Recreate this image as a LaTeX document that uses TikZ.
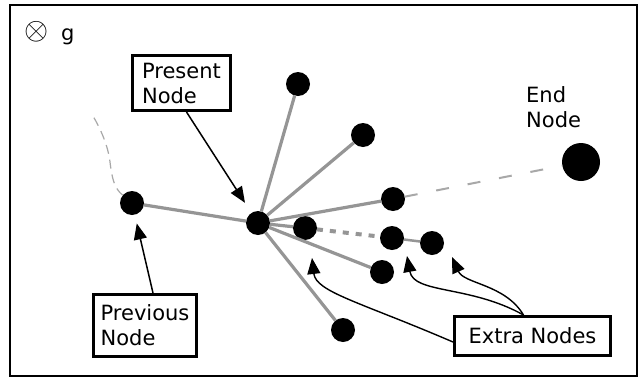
\documentclass[tikz,border=0pt]{standalone}
\usepackage{fontspec}
\setmainfont{DejaVu Sans}
\usetikzlibrary{arrows.meta}
\definecolor{linkgray}{HTML}{959595}
\definecolor{dashgray}{HTML}{A8A8A8}
\begin{document}
\begin{tikzpicture}[x=1pt,y=-1pt,
  txt/.style={font=\fontsize{21}{25}\selectfont},
  dot/.style={circle,fill=black,inner sep=0pt,outer sep=0pt,minimum size=24pt},
  bigdot/.style={dot,minimum size=38pt},
  labelbox/.style={txt,draw=black,line width=3pt,fill=white,align=left,inner sep=0pt},
  link/.style={draw=linkgray,line width=3.2pt},
  dotlink/.style={draw=linkgray,line width=4pt,dash pattern=on 6pt off 7pt},
  goallink/.style={draw=dashgray,line width=2pt,dash pattern=on 13pt off 19pt},
  trail/.style={draw=dashgray,line width=1.2pt,dash pattern=on 9pt off 6pt},
  arr/.style={draw=black,line width=1.5pt,-{Triangle[length=16pt,width=13pt]}},
  curvearr/.style={arr,line width=1.4pt}
]
% canvas and frame
\useasboundingbox (0,0) rectangle (641,381);
\fill[white] (0,0) rectangle (641,381);
\draw[line width=2pt] (10,5) rectangle (637,376);

% legend
\node[inner sep=0pt,scale=3.1] (otimes) at (37,32) {$\otimes$};
\node[txt,anchor=base west,inner sep=0pt] (g) at (61,40) {g};

% search nodes
\node[dot] (prev) at (132,203) {};
\node[dot] (present) at (258,223) {};
\node[dot] (n1) at (298,84) {};
\node[dot] (n2) at (363,135) {};
\node[dot] (n3) at (393,199) {};
\node[dot] (x1) at (305,228) {};
\node[dot] (x2) at (392,238) {};
\node[dot] (x3) at (432,243) {};
\node[dot] (n4) at (382,272) {};
\node[dot] (n5) at (343,330) {};
\node[bigdot] (goal) at (581,162) {};

% links between nodes
\draw[link] (prev) -- (present);
\draw[link] (present) -- (n1);
\draw[link] (present) -- (n2);
\draw[link] (present) -- (n3);
\draw[link] (present) -- (x1);
\draw[link] (present) -- (n4);
\draw[link] (present) -- (n5);
\draw[dotlink] (x1) -- (x2);
\draw[link,line width=2.5pt] (x2) -- (x3);
\draw[goallink] (n3) -- (goal);
\draw[trail] (prev) .. controls (114,188) and (112,178) .. (110,162)
  .. controls (108,145) and (100,128) .. (93,116);

% labels
\node[labelbox,minimum width=98pt,minimum height=55pt] (presentlabel) at (181.5,83) {Present\\Node};
\node[labelbox,minimum width=103pt,minimum height=62pt] (prevlabel) at (145,325.5) {Previous\\Node};
\node[labelbox,minimum width=156pt,minimum height=39pt] (extralabel) at (532.5,336) {Extra Nodes};
\node[txt,anchor=north west,align=left,inner sep=0pt] (endlabel) at (526,86) {End\\Node};

% pointers
\coordinate (t1) at (312,258);
\coordinate (t2) at (407,256);
\coordinate (t3) at (452,257);
\draw[arr,shorten >=12pt] ([xshift=5pt]presentlabel.south) -- (present);
\draw[arr,shorten >=9pt] ([xshift=8pt]prevlabel.north) -- (prev);
\draw[curvearr] ([yshift=-6pt]extralabel.west) .. controls (360,302) and (316,292) .. (t1);
\draw[curvearr] ([xshift=-9pt]extralabel.north) .. controls (470,285) and (414,294) .. (t2);
\draw[curvearr] ([xshift=-9pt]extralabel.north) .. controls (505,284) and (464,284) .. (t3);
\end{tikzpicture}
\end{document}
